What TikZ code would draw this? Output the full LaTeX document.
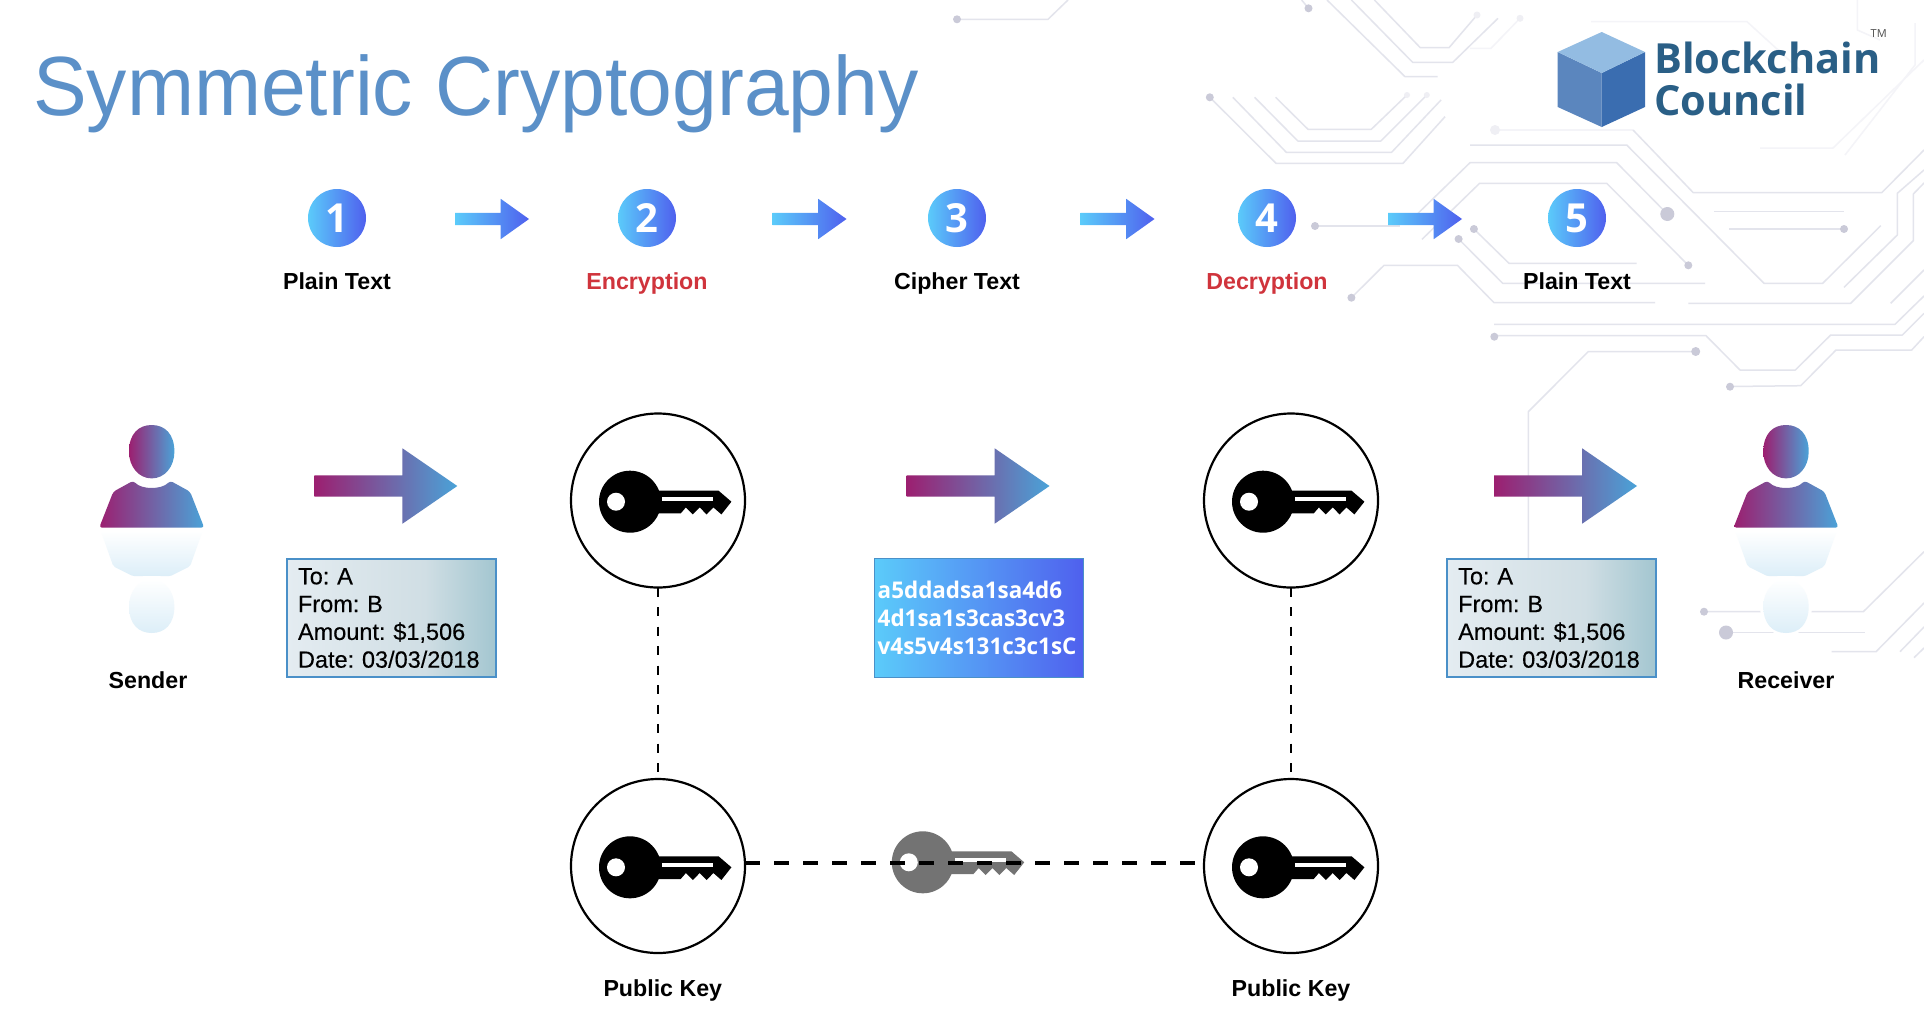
\documentclass[tikz,border=0pt]{standalone}
\usepackage{fontspec}
\usetikzlibrary{shapes.arrows,shapes.geometric}
\setmainfont{Liberation Sans}
\newfontfamily\opens{Open Sans}
\newfontfamily\ocipher[FakeStretch=0.975]{Open Sans}
\newfontfamily\titlefont[FakeStretch=0.958]{Liberation Sans}
\newfontfamily\notefont[FakeBold=0.3]{Liberation Sans}
\frenchspacing
\definecolor{tracec}{HTML}{E3E4EC}
\definecolor{tracef}{HTML}{F4F4F8}
\definecolor{dotc}{HTML}{CACAD8}
\definecolor{dotf}{HTML}{EFEFF4}
\definecolor{titlec}{HTML}{5B90C8}
\definecolor{logoc}{HTML}{2A5F86}
\definecolor{cyanc}{HTML}{5BCBFA}
\definecolor{indigoc}{HTML}{4F60EE}
\definecolor{plumc}{HTML}{9C1F70}
\definecolor{skyc}{HTML}{4AA3D8}
\definecolor{redc}{HTML}{D0343C}
\definecolor{noteedge}{HTML}{4A90C8}
\definecolor{greykey}{HTML}{737373}
\definecolor{mirrorc}{HTML}{DCEEF8}
\definecolor{cubeleft}{HTML}{5B86BE}
\definecolor{cuberight}{HTML}{3A6DB0}
\definecolor{cubetop}{HTML}{93BCE2}
\definecolor{noteleft}{HTML}{E4ECF1}
\definecolor{notemid}{HTML}{D0DEE4}
\definecolor{noteright}{HTML}{A3C6D0}
\pgfdeclarehorizontalshading{notegrad}{100bp}{color(0bp)=(noteleft); color(25bp)=(noteleft); color(58bp)=(notemid); color(75bp)=(noteright); color(100bp)=(noteright)}
\tikzset{
  trace/.style={draw=tracec,line width=1.5pt,line join=round},
  tracelight/.style={draw=tracef,line width=1.5pt,line join=round},
  smallarrow/.style={shape=single arrow,anchor=tail,left color=cyanc,right color=indigoc,draw=none,
    inner xsep=0pt,inner ysep=6pt,outer sep=0pt,minimum height=74pt,minimum width=40pt,
    single arrow head extend=14pt,single arrow tip angle=71,single arrow head indent=0pt},
  bigarrow/.style={shape=single arrow,anchor=tail,left color=plumc,right color=skyc,draw=none,
    inner xsep=0pt,inner ysep=10.5pt,outer sep=0pt,minimum height=143pt,minimum width=75pt,
    single arrow head extend=27pt,single arrow tip angle=69,single arrow head indent=0pt},
  numdisc/.style={circle,minimum size=58pt,inner sep=0pt,left color=cyanc,right color=indigoc,
    text=white,font=\opens\bfseries\fontsize{40}{40}\selectfont},
  steplabel/.style={anchor=base,inner sep=0pt,font=\bfseries\fontsize{23.2}{26}\selectfont},
  keydisc/.style={circle,draw=black,line width=2.2pt,minimum size=174pt,inner sep=0pt,outer sep=0pt},
  notebox/.style={draw=noteedge,line width=2.5pt,minimum width=209pt,minimum height=118pt,
    shade,shading=notegrad,text=black,
    text width=187pt,align=left,inner sep=0pt,font=\notefont\fontsize{23.5}{27.8}\selectfont},
  cipherbox/.style={draw=noteedge,line width=1pt,minimum width=209pt,minimum height=119pt,
    left color=cyanc,right color=indigoc,text=white,text width=203pt,align=left,inner sep=0pt,
    font=\ocipher\bfseries\fontsize{23}{28.3}\selectfont},
  logotext/.style={anchor=base west,inner sep=0pt,text=logoc,font=\opens\bfseries\fontsize{41.5}{44}\selectfont},
  pics/keyicon/.style={code={
    \fill[#1] (0,0) circle (31pt);
    \fill[#1] (26,-11) -- (88.6,-11) -- (101.4,0) -- (91.4,12.7) -- (83.4,5.7) -- (76.6,12.7)
      -- (69.7,5.7) -- (62.8,12.7) -- (55.9,5.7) -- (50.7,11.7) -- (26,11.7) -- cycle;
    \fill[white] (-14,0) circle (9pt);
    \fill[white] (31.7,-4.3) rectangle (83.4,-0.7);
  }},
  pics/headshape/.style={code={
    \path[#1] (-22.7,0) .. controls (-22.7,-18) and (-13,-26.7) .. (0,-26.7)
      .. controls (13,-26.7) and (22.7,-18) .. (22.7,0)
      .. controls (22.7,15) and (13,26.7) .. (0,26.7)
      .. controls (-13,26.7) and (-22.7,15) .. (-22.7,0) -- cycle;
  }},
  pics/personicon/.style={code={
    \pic at (0,0) {headshape={left color=plumc,right color=skyc}};
    \shade[left color=plumc,right color=skyc,rounded corners=3pt]
      (-38.4,40) -- (-18.4,29) .. controls (-10,38) and (10,38) .. (18.4,29) -- (38.4,40)
      -- (52.5,76) -- (-52.5,76) -- cycle;
    \shade[top color=white,bottom color=mirrorc,rounded corners=2pt]
      (-51,79) -- (51,79) -- (38.4,114.6) -- (18.4,124.6) -- (0,124) -- (-18.4,124.6) -- (-38.4,114.6) -- cycle;
    \fill[white] (0,154.6) ellipse [x radius=26pt,y radius=30pt];
    \pic[yscale=-1] at (0,154.6) {headshape={top color=white,bottom color=mirrorc}};
  }}
}
\begin{document}
\begin{tikzpicture}[x=1pt,y=-1pt]
\useasboundingbox (0,0) rectangle (1924,1018);
\fill[white] (0,0) rectangle (1924,1018);
% ---- circuit board background
\draw[tracelight] (1591,21.7) -- (1747,21.7) -- (1800,70);
\draw[tracelight] (1857.3,0) -- (1857.3,30) -- (1880,40);
\draw[tracelight] (1915,23) -- (1915,65) -- (1845,155);
\draw[tracelight] (1520,18.3) -- (1491,48.3) -- (1470,48.3);
\draw[tracelight] (1924,60) -- (1833,148) -- (1760,148);
\draw[tracelight] (1500,130) -- (1633,130);
\draw[trace] (957,19.3) -- (1048,19.3) -- (1068,0);
\draw[trace] (1308.5,8.3) -- (1301.6,0);
\draw[trace] (1327,0) -- (1405,76.7) -- (1437.5,76.7);
\draw[trace] (1351.4,0) -- (1412.6,62.3) -- (1452.8,62.3) -- (1498,18.3);
\draw[trace] (1374.4,0) -- (1420.3,47.7) -- (1449,47.7) -- (1477,15);
\draw[trace] (1209.8,97.3) -- (1276,163.3) -- (1403,163.3) -- (1445,116.7);
\draw[trace] (1232.8,97.3) -- (1286.3,152.3) -- (1391.6,152.3) -- (1441,100);
\draw[trace] (1254.6,97.3) -- (1297.8,141) -- (1380.9,141) -- (1426.8,95);
\draw[trace] (1275.6,97.3) -- (1308,129.3) -- (1371.3,129.3) -- (1407,95);
\draw[trace] (1633,130) -- (1693.3,192.7) -- (1881.7,192.7) -- (1924,150);
\draw[trace] (1470,145) -- (1626.7,145) -- (1764,283.3) -- (1822.7,283.3) -- (1880.7,225.7);
\draw[trace] (1418,213.3) -- (1470,162.7) -- (1616.7,162.7) -- (1667.3,214);
\draw[trace] (1422,239.3) -- (1479.6,183.3) -- (1606.7,183.3) -- (1688.3,265.3);
\draw[trace] (1714,211.7) -- (1844,211.7);
\draw[trace] (1729,229) -- (1844,229);
\draw[trace] (1315,226) -- (1400,226);
\draw[trace] (1473.9,229) -- (1509,263.3) -- (1636.7,263.3);
\draw[trace] (1458.6,239) -- (1502.7,283.3) -- (1705,283.3);
\draw[trace] (1351.4,297.7) -- (1384,265.3) -- (1457.4,265.3) -- (1494,302.7) -- (1655,302.7);
\draw[trace] (1688.3,303.3) -- (1850.7,303.3) -- (1913.3,240.7) -- (1913.3,194) -- (1924,183);
\draw[trace] (1844,287.3) -- (1897.3,235) -- (1897.3,193.3) -- (1924,170);
\draw[trace] (1890.7,303.3) -- (1924,270);
\draw[trace] (1494,324.3) -- (1895,324.3) -- (1924,296);
\draw[trace] (1494.3,335.7) -- (1706,335.7) -- (1740,370) -- (1795.3,370) -- (1830.7,335) -- (1902.3,335) -- (1924,313.3);
\draw[trace] (1695.7,351.5) -- (1588.3,351.5) -- (1528.3,411.7) -- (1528.3,558);
\draw[trace] (1730,386.5) -- (1800.7,385.7) -- (1836,350) -- (1911.7,350) -- (1924,336.7);
\draw[trace] (1704,611.7) -- (1863.3,611.7) -- (1924,551.7);
\draw[trace] (1726,632.5) -- (1865,632.5);
\draw[trace] (1831.7,651.7) -- (1876,651.7) -- (1924,603);
\draw[trace] (1900,651.7) -- (1924,627);
\draw[trace] (1914,657.7) -- (1924,648);
\foreach \px/\py/\pr in {957/19.3/4,1308.5/8.3/4,1209.8/97.3/4,1315/226/4,1473.9/229/4,1458.6/239/4,1351.4/297.7/4,
  1667.3/214/7,1688.3/265.3/4,1844/229/4,1494.3/336.7/4,1695.7/351.5/4.5,1730/386.7/4,1704/611.7/4,1726/632.5/7}
  {\fill[dotc] (\px,\py) circle (\pr pt);}
\foreach \px/\py/\pr in {1477/15/3.5,1520/18.3/3.5,1407/95/3,1426.8/95/3,1495/130/5}
  {\fill[dotf] (\px,\py) circle (\pr pt);}
% ---- title and logo
\node[anchor=base west,inner sep=0pt,text=titlec,font=\titlefont\fontsize{84}{90}\selectfont] (title) at (33,115) {Symmetric Cryptography};
\fill[cubeleft] (1557.7,52) -- (1601.7,73) -- (1601.7,127) -- (1557.7,107) -- cycle;
\fill[cuberight] (1645,52) -- (1601.7,73) -- (1601.7,127) -- (1645,107) -- cycle;
\fill[cubetop] (1601.7,32) -- (1645,52) -- (1601.7,73) -- (1557.7,52) -- cycle;
\node[logotext] (logoa) at (1654,73) {Blockchain};
\node[logotext] (logob) at (1654,115) {Council};
\node[anchor=base west,inner sep=0pt,text=black!70,font=\opens\fontsize{11}{12}\selectfont] (tm) at (1870.5,37.5) {TM};
% ---- step row
\node[numdisc] (n1) at (337,218) {1};
\node[numdisc] (n2) at (647,218) {2};
\node[numdisc] (n3) at (957,218) {3};
\node[numdisc] (n4) at (1267,218) {4};
\node[numdisc] (n5) at (1577,218) {5};
\node[steplabel] (l1) at (337,289.6) {Plain Text};
\node[steplabel,text=redc] (l2) at (647,289.6) {Encryption};
\node[steplabel] (l3) at (957,289.6) {Cipher Text};
\node[steplabel,text=redc] (l4) at (1267,289.6) {Decryption};
\node[steplabel] (l5) at (1577,289.6) {Plain Text};
\node[smallarrow] (s1) at (455,219) {};
\node[smallarrow] (s2) at (772.5,219) {};
\node[smallarrow] (s3) at (1080.5,219) {};
\node[smallarrow] (s4) at (1388,219) {};
% ---- people
\pic (sender) at (151.7,451.7) {personicon};
\pic (receiver) at (1786,451.7) {personicon};
\node[steplabel] (senderl) at (148,688.3) {Sender};
\node[steplabel] (receiverl) at (1786,688.3) {Receiver};
% ---- big arrows
\node[bigarrow] (b1) at (314.3,486) {};
\node[bigarrow] (b2) at (906.5,486) {};
\node[bigarrow] (b3) at (1494,486) {};
% ---- boxes
\node[notebox] (note1) at (391.5,618) {To: A\\From: B\\Amount: \$1,506\\Date: 03/03/2018};
\node[notebox] (note2) at (1551.7,618) {To: A\\From: B\\Amount: \$1,506\\Date: 03/03/2018};
\node[cipherbox] (cipher) at (979.2,618) {a5ddadsa1sa4d6\\4d1sa1s3cas3cv3\\v4s5v4s131c3c1sC};
% ---- keys
\node[keydisc] (k1) at (658,500.5) {};
\node[keydisc] (k2) at (1291,500.5) {};
\node[keydisc] (k3) at (658,866) {};
\node[keydisc] (k4) at (1291,866) {};
\pic (key1) at (630,501.7) {keyicon=black};
\pic (key2) at (1263,501.7) {keyicon=black};
\pic (key3) at (630,867.3) {keyicon=black};
\pic (key4) at (1263,867.3) {keyicon=black};
\pic (keyshared) at (922.8,862.3) {keyicon=greykey};
\draw[line width=2pt,dash pattern=on 9pt off 10.5pt] (k1) -- (k3);
\draw[line width=2pt,dash pattern=on 9pt off 10.5pt] (k2) -- (k4);
\draw[line width=4pt,dash pattern=on 15pt off 14pt] ([yshift=3.5pt]k3.east) -- ([yshift=3.5pt]k4.west);
\node[steplabel] (pk1) at (662.8,996) {Public Key};
\node[steplabel] (pk2) at (1291,996) {Public Key};
\end{tikzpicture}
\end{document}
